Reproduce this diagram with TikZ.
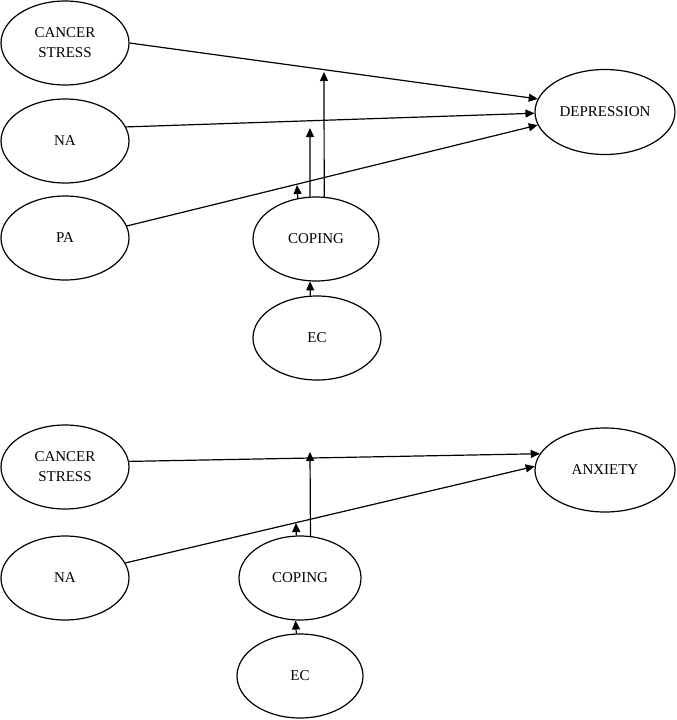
\documentclass[tikz,border=0pt]{standalone}
\usepackage{fontspec}
\setmainfont{Liberation Serif}
\usetikzlibrary{shapes.geometric,arrows.meta}
\begin{document}
\begin{tikzpicture}[x=1pt,y=-1pt,
  ell/.style={draw,ellipse,line width=1.2pt,inner sep=0pt,minimum width=128pt,minimum height=84pt,align=center,font=\fontsize{15}{20}\selectfont},
  arr/.style={line width=1.2pt,-{Triangle[length=9pt,width=8pt]}}]
\useasboundingbox (0,0) rectangle (677,720);
% top diagram
\node[ell] (cs1) at (65,43) {CANCER\\STRESS};
\node[ell] (na1) at (65,141) {NA};
\node[ell] (pa1) at (65,238) {PA};
\node[ell,minimum width=140pt,minimum height=85pt] (dep) at (605,112) {DEPRESSION};
\node[ell,minimum width=126pt,minimum height=84pt] (cop1) at (316,239) {COPING};
\node[ell,minimum height=84pt] (ec1) at (317,338) {EC};
\draw[arr] (cs1.east) -- (dep.169);
\draw[arr] (na1.13) -- (dep.181);
\draw[arr] (pa1.11) -- (dep.191);
\coordinate (tA) at (297,185);
\coordinate (tB) at (310,128);
\coordinate (tC) at (324,72);
\draw[arr] (cop1.114.9) -- (tA);
\draw[arr] (cop1.98) -- (tB);
\draw[arr] (cop1.79.4) -- (tC);
\draw[arr] (ec1.99.5) -- (cop1.262);
% bottom diagram
\node[ell] (cs2) at (65,467) {CANCER\\STRESS};
\node[ell] (na2) at (65,578) {NA};
\node[ell,minimum width=140pt,minimum height=84pt] (anx) at (605,470) {ANXIETY};
\node[ell,minimum width=122pt,minimum height=84pt] (cop2) at (300,578) {COPING};
\node[ell,minimum width=126pt,minimum height=84pt] (ec2) at (300,676) {EC};
\draw[arr] (cs2.5) -- (anx.166);
\draw[arr] (na2.14) -- (anx.177);
\coordinate (tD) at (296,523);
\coordinate (tE) at (310,452);
\draw[arr] (cop2.95.5) -- (tD);
\draw[arr] (cop2.76.4) -- (tE);
\draw[arr] (ec2.95.4) -- (cop2.264.5);
\end{tikzpicture}
\end{document}
